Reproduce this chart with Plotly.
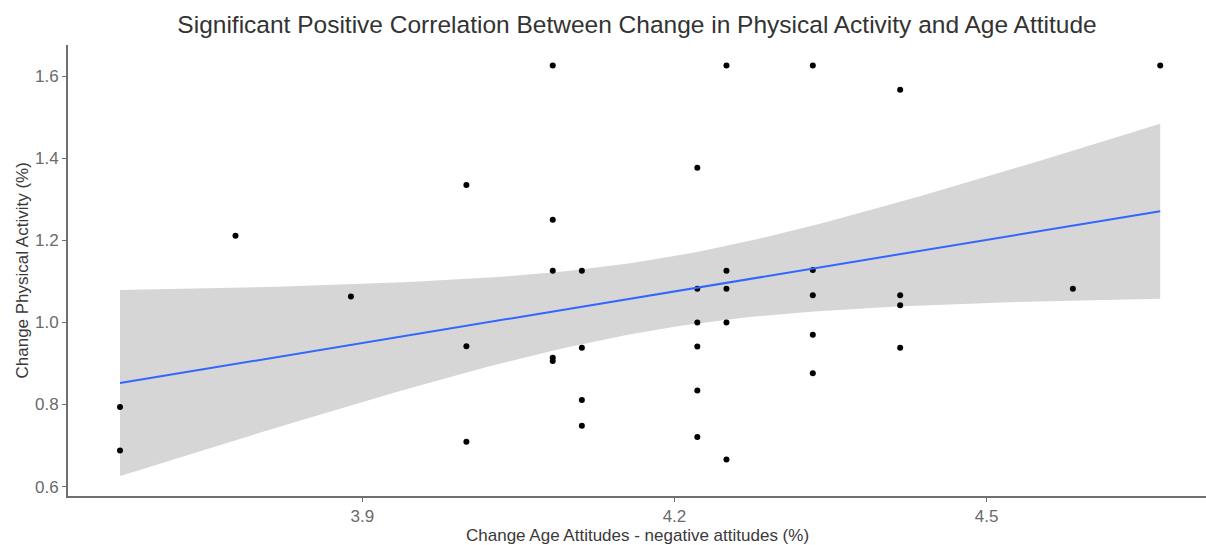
import numpy as np
import plotly.graph_objects as go

# Data
age_attitude_change = [
    3.667, 3.667, 3.778, 3.889, 4.0, 4.0, 4.0,
    4.083, 4.083, 4.083, 4.083, 4.083,
    4.111, 4.111, 4.111, 4.111,
    4.222, 4.222, 4.222, 4.222, 4.222, 4.222,
    4.25, 4.25, 4.25, 4.25, 4.25,
    4.333, 4.333, 4.333, 4.333, 4.333,
    4.417, 4.417, 4.417, 4.417,
    4.583, 4.667,
]
activity_change = [
    0.794, 0.688, 1.211, 1.063, 1.335, 0.942, 0.709,
    1.626, 1.25, 1.126, 0.914, 0.906,
    1.126, 0.938, 0.811, 0.748,
    1.377, 1.082, 1.0, 0.941, 0.834, 0.721,
    1.626, 1.126, 1.082, 1.0, 0.666,
    1.626, 1.128, 1.066, 0.970, 0.876,
    1.567, 1.066, 1.042, 0.938,
    1.082, 1.626,
]
x_ticks = [3.9, 4.2, 4.5]
y_ticks = [0.6, 0.8, 1.0, 1.2, 1.4, 1.6]
t_crit = 2.028  # 95% t quantile, df = n - 2 = 36

title_text = "Significant Positive Correlation Between Change in Physical Activity and Age Attitude"
x_title = "Change Age Attitudes - negative attitudes (%)"
y_title = "Change Physical Activity (%)"

# Linear model (geom_smooth(method = "lm"))
x = np.array(age_attitude_change)
y = np.array(activity_change)
n = len(x)
slope, intercept = np.polyfit(x, y, 1)
resid = y - (slope * x + intercept)
s = np.sqrt(np.sum(resid ** 2) / (n - 2))
xm = x.mean()
sxx = np.sum((x - xm) ** 2)
xs = np.linspace(x.min(), x.max(), 80)
fit = slope * xs + intercept
se = s * np.sqrt(1.0 / n + (xs - xm) ** 2 / sxx)
upper = fit + t_crit * se
lower = fit - t_crit * se

fig = go.Figure()
fig.add_trace(go.Scatter(
    x=np.concatenate([xs, xs[::-1]]), y=np.concatenate([upper, lower[::-1]]),
    fill="toself", fillcolor="rgba(153,153,153,0.4)", line=dict(width=0),
    mode="lines", hoverinfo="skip", showlegend=False))
fig.add_trace(go.Scatter(
    x=x, y=y, mode="markers",
    marker=dict(color="black", size=6), showlegend=False))
fig.add_trace(go.Scatter(
    x=xs, y=fit, mode="lines", line=dict(color="#3366FF", width=2),
    showlegend=False))

axis_common = dict(
    showgrid=False, zeroline=False, showline=True, linecolor="#707070",
    linewidth=1.8, ticks="outside", ticklen=4, tickcolor="#707070",
    tickwidth=1, tickfont=dict(family="Liberation Sans", size=17, color="#6a6a6a"),
)
fig.update_layout(
    width=1206, height=545,
    margin=dict(l=68, r=0, t=45, b=49),
    paper_bgcolor="white", plot_bgcolor="white",
    font=dict(family="Liberation Sans"),
    title=dict(text=title_text, x=0.5, xref="paper", y=1 - 24 / 545,
               yref="container", yanchor="middle", xanchor="center",
               font=dict(family="Liberation Sans", size=24.5, color="#333333")),
    xaxis=dict(range=[3.617, 4.711], tickvals=x_ticks,
               ticktext=[f"{v:.1f}" for v in x_ticks], **axis_common),
    yaxis=dict(range=[0.577, 1.676], tickvals=y_ticks,
               ticktext=[f"{v:.1f}" for v in y_ticks], **axis_common),
    annotations=[
        dict(text=x_title, xref="paper", yref="paper", x=0.5, y=0,
             yshift=-39, xanchor="center", yanchor="middle", showarrow=False,
             font=dict(family="Liberation Sans", size=17, color="#3a3a3a")),
        dict(text=y_title, xref="paper", yref="paper", x=0, y=0.5,
             xshift=-46, xanchor="center", yanchor="middle", showarrow=False,
             textangle=-90,
             font=dict(family="Liberation Sans", size=17, color="#3a3a3a")),
    ],
)
fig.write_html("out.html", config={"displayModeBar": False})

# Remove the browser's default page margin so the figure fills the window
with open("out.html", "r", encoding="utf-8") as f:
    html = f.read()
html = html.replace("<head>", "<head><style>html,body{margin:0;padding:0;overflow:hidden;}</style>", 1)
with open("out.html", "w", encoding="utf-8") as f:
    f.write(html)
